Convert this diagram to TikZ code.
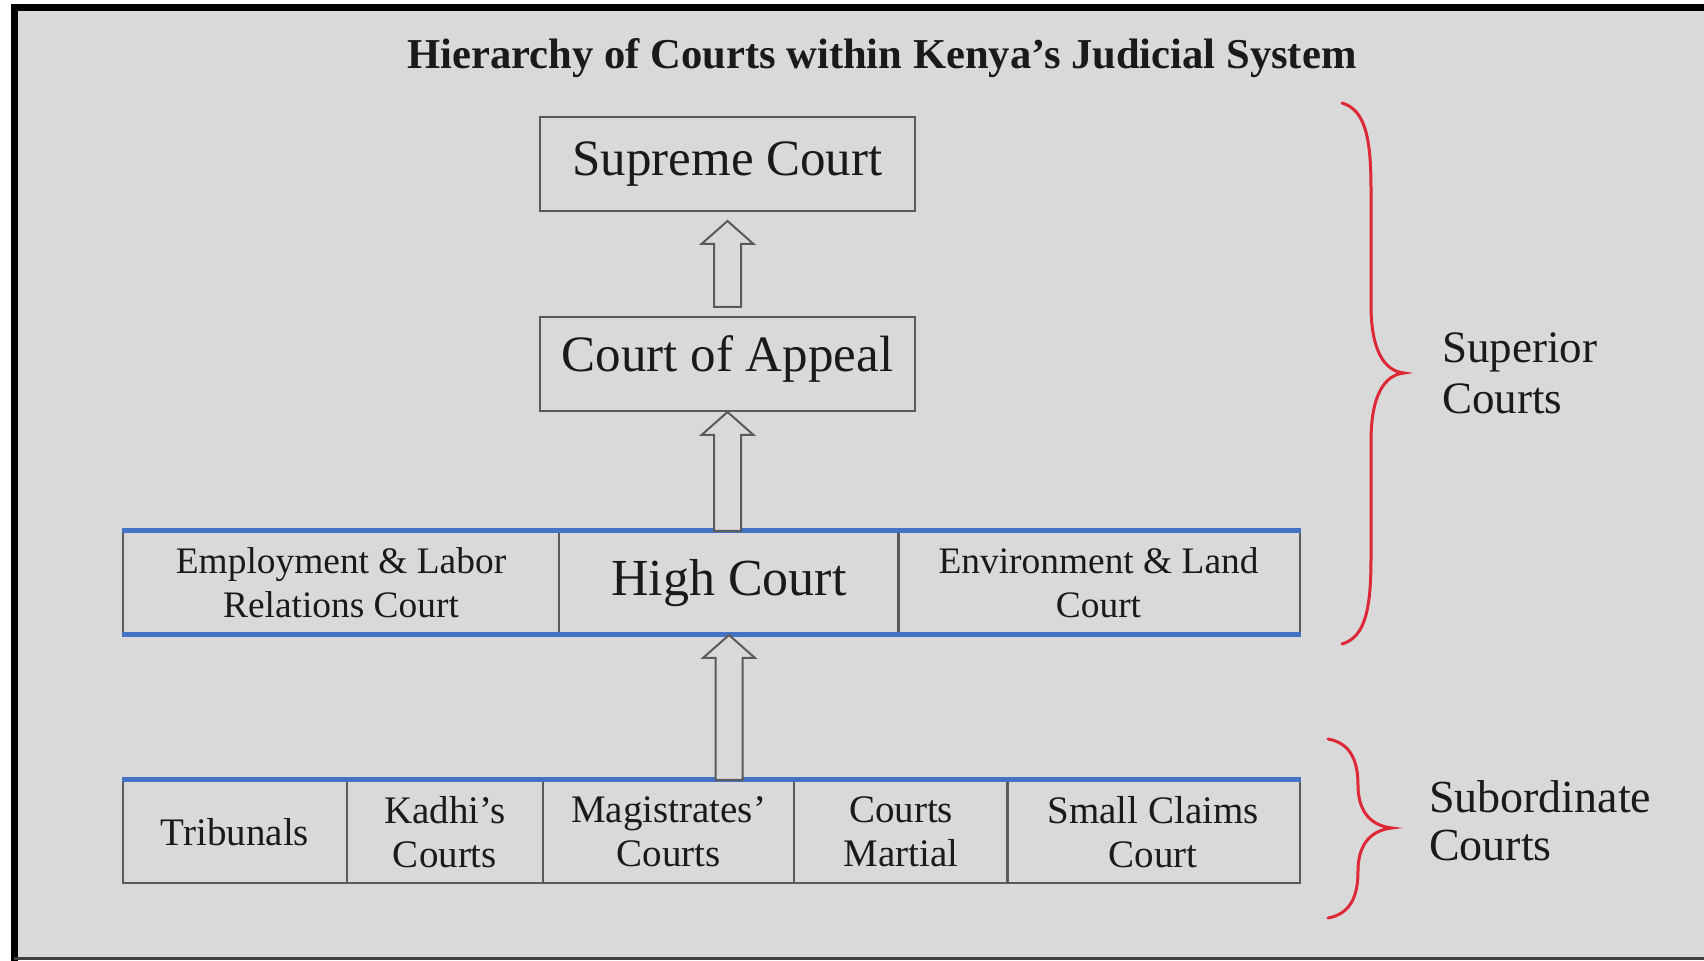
\documentclass[tikz,border=0pt]{standalone}
\usepackage{fontspec}
\setmainfont{Liberation Serif}
\usetikzlibrary{calc}
\definecolor{bggray}{HTML}{D9D9D9}
\definecolor{boxgray}{HTML}{5A5A5A}
\definecolor{txtdark}{HTML}{1A1A1A}
\definecolor{rowblue}{HTML}{4472C4}
\definecolor{bracered}{HTML}{DC2837}
\newcommand{\blkarrow}[3]{%
  \draw[blockarr] let \p1=(#1.north), \p2=(#2.south) in
  (\x2-6.75pt,\y1+#3) -- (\x2-6.75pt,\y2-#3-11.5pt) -- (\x2-13pt,\y2-#3-11.5pt)
  -- (\x2,\y2-#3) -- (\x2+13pt,\y2-#3-11.5pt) -- (\x2+6.75pt,\y2-#3-11.5pt)
  -- (\x2+6.75pt,\y1+#3) -- cycle;}
\tikzset{
  bigbox/.style={draw=boxgray, line width=1pt, fill=bggray, inner sep=0pt,
    text=txtdark, font=\fontsize{25.5}{30}\selectfont,
    minimum width=187.5pt, minimum height=47pt},
  cell/.style={draw=boxgray, line width=1pt, inner sep=0pt, text=txtdark,
    align=center, minimum height=51pt},
  smalltxt/.style={font=\fontsize{18.7}{22}\selectfont},
  lowtxt/.style={font=\fontsize{19.5}{22}\selectfont},
  blueedge/.style={draw=rowblue, line width=2.5pt},
  blockarr/.style={draw=boxgray, line width=1pt, fill=bggray, line join=miter},
  bracestyle/.style={draw=bracered, line width=1.5pt, line cap=round},
  sidetxt/.style={text=txtdark, align=left, anchor=west},
}
\begin{document}
\begin{tikzpicture}[x=0.5pt, y=-0.5pt]
\useasboundingbox (0,0) rectangle (1704,961);
% frame
\fill[white] (0,0) rectangle (1704,961);
\fill[bggray] (14,8) rectangle (1704,959);
\draw[black, line width=3.5pt] (14,4) -- (14,961);
\draw[black, line width=3.5pt] (11,8) -- (1704,8);
\draw[black!75, line width=1.5pt] (14,959) -- (1704,959);

% title
\node[text=txtdark, font=\bfseries\fontsize{21.3}{25}\selectfont] (title) at (882,58)
  {Hierarchy of Courts within Kenya’s Judicial System};

% top boxes
\node[bigbox] (sup) at (727.5,164) {Supreme Court};
\node[bigbox] (coa) at (727.5,364) {\raisebox{2.5pt}[0.7em][0.2em]{Court of Appeal}};

% high court row
\node[cell, smalltxt, minimum width=218pt] (elrc) at (341,583) {Employment \& Labor\\Relations Court};
\node[cell, font=\fontsize{26}{30}\selectfont, minimum width=170pt] (hc) at (729,583) {High Court};
\node[cell, smalltxt, minimum width=201pt] (elc) at (1098.5,583) {Environment \& Land\\Court};
\draw[blueedge] (elrc.north west) -- (elc.north east);
\draw[blueedge] (elrc.south west) -- (elc.south east);

% subordinate row
\node[cell, lowtxt, minimum width=112pt] (trib) at (235,832) {Tribunals};
\node[cell, lowtxt, minimum width=98pt] (kadhi) at (445,832) {Kadhi’s\\Courts};
\node[cell, lowtxt, minimum width=125.5pt] (mag) at (668.5,832) {Magistrates’\\Courts};
\node[cell, lowtxt, minimum width=107pt] (cm) at (901,832) {Courts\\Martial};
\node[cell, lowtxt, minimum width=146.5pt] (scc) at (1153,832) {Small Claims\\Court};
\draw[blueedge] (trib.north west) -- (scc.north east);

% block arrows
\blkarrow{coa}{sup}{4.5pt}
\blkarrow{hc}{coa}{0pt}
\blkarrow{mag}{hc}{0pt}

% braces
\draw[bracestyle] (1342,103) .. controls (1366,110) and (1371,140) .. (1371,190)
  -- (1371,305) .. controls (1371,350) and (1384,371) .. (1404,373)
  .. controls (1384,375) and (1371,396) .. (1371,441)
  -- (1371,557) .. controls (1371,607) and (1366,637) .. (1342,644);
\draw[bracestyle] (1328,739) .. controls (1350,743) and (1358,760) .. (1358,785)
  .. controls (1358,814) and (1373,826) .. (1392,828)
  .. controls (1373,830) and (1358,842) .. (1358,871)
  .. controls (1358,897) and (1350,914) .. (1328,918);

\node[sidetxt, font=\fontsize{22.5}{25.5}\selectfont] (sup-lbl) at (1435,373) {Superior\\Courts};
\node[sidetxt, font=\fontsize{23}{24}\selectfont] (sub-lbl) at (1422,821) {Subordinate\\Courts};
\end{tikzpicture}
\end{document}
